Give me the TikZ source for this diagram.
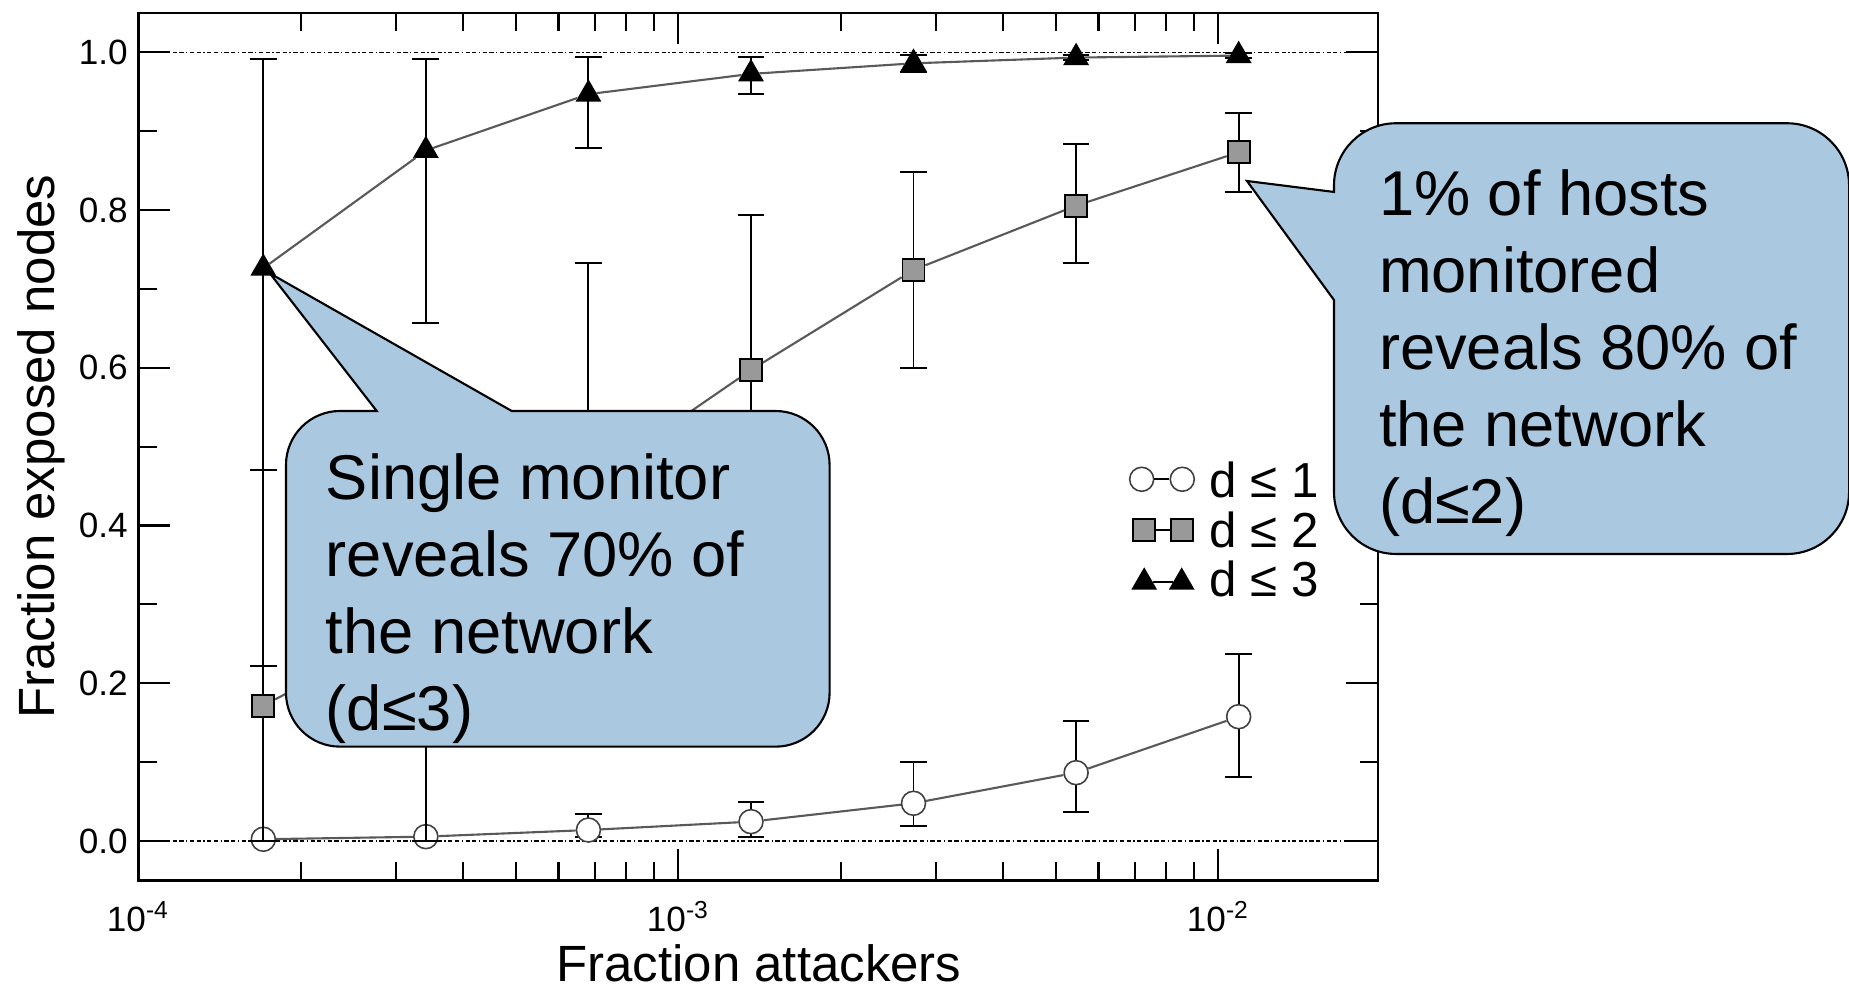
\documentclass[tikz,border=0pt]{standalone}
\usepackage{fontspec}
\setmainfont{Liberation Sans}
\usepackage{tikz}
\usetikzlibrary{arrows}
\usetikzlibrary{shapes.geometric}
\definecolor{calloutblue}{RGB}{170,201,225}

\begin{document}
\begin{tikzpicture}[line cap=butt,line join=miter,x=5.4cm,y=7.887cm,
  axisline/.style={line width=0.75pt},
  tickline/.style={line width=0.6pt},
  refline/.style={line width=0.4pt,dash pattern=on 1.2pt off 0.7pt on 1.2pt off 0.7pt on 0.4pt off 0.7pt},
  errbar/.style={line width=0.55pt},
  dline/.style={black!65,line width=0.6pt},
  dmark1/.style={circle,draw=black!75,fill=white,line width=0.45pt,minimum size=0.24cm,inner sep=0pt},
  dmark2/.style={rectangle,draw=black,fill=black!40,line width=0.5pt,minimum size=0.22cm,inner sep=0pt},
  dmark3/.style={regular polygon,regular polygon sides=3,draw=black,fill=black,line width=0.4pt,minimum size=0.27cm,inner sep=0pt},
  ticklabel/.style={font=\fontsize{10}{12}\selectfont},
  legtext/.style={font=\fontsize{14}{16}\selectfont,anchor=base west,inner sep=0pt},
  callout/.style={draw=black,fill=calloutblue,line width=0.6pt},
  bubbletext/.style={font=\fontsize{18}{21.9}\selectfont,anchor=base west,inner sep=0pt,align=left}]
\useasboundingbox (-0.2561,-0.18638) rectangle (3.1680,1.06631);
% dotted lines at 0 and 1
\draw[refline] (0,0) -- (2.2957,0);
\draw[refline] (0,1) -- (2.2957,1);
% frame and ticks
\draw[axisline] (0,-0.05) rectangle (2.2957,1.05);
\foreach \y in {0,0.2,0.4,0.6,0.8,1}
{\draw[tickline,shift={(0,\y)}] (0pt,0pt) -- (9pt,0pt);
\draw[tickline,shift={(2.2957,\y)}] (0pt,0pt) -- (-9pt,0pt);}
\foreach \y in {0.1,0.3,0.5,0.7,0.9}
{\draw[tickline,shift={(0,\y)}] (0pt,0pt) -- (5.2pt,0pt);
\draw[tickline,shift={(2.2957,\y)}] (0pt,0pt) -- (-5.2pt,0pt);}
\foreach \x in {1,2}
{\draw[tickline,shift={(\x,-0.05)}] (0pt,0pt) -- (0pt,9pt);
\draw[tickline,shift={(\x,1.05)}] (0pt,0pt) -- (0pt,-9pt);}
\foreach \d in {0,1}
\foreach \k in {2,...,9}
{\draw[tickline,shift={({\d+log10(\k)},-0.05)}] (0pt,0pt) -- (0pt,5.2pt);
\draw[tickline,shift={({\d+log10(\k)},1.05)}] (0pt,0pt) -- (0pt,-5.2pt);}
\foreach \y/\t [count=\i] in {0/0.0,0.2/0.2,0.4/0.4,0.6/0.6,0.8/0.8,1/1.0}
\draw (0,\y) node[left,ticklabel,inner sep=2.8pt] (ylab\i) {\t};
\foreach \x/\e [count=\i] in {0/-4,1/-3,2/-2}
\draw (\x,-0.1147) node[anchor=base,ticklabel,inner sep=0pt] (xlab\i) {10\textsuperscript{\e}};
\node[anchor=base,inner sep=0pt,font=\fontsize{14.5}{17}\selectfont] (xtitle) at (1.1494,-0.1785) {Fraction attackers};
\node[anchor=base,inner sep=0pt,rotate=90,font=\fontsize{14.5}{17}\selectfont] (ytitle) at (-0.1543,0.5) {Fraction exposed nodes};
% d <= 1
\foreach \x/\lo/\hi in {0.8336/0.005/0.0339,1.1346/0.0055/0.0498,1.4356/0.019/0.1005,1.7367/0.0364/0.1521,2.0377/0.0815/0.2367}
{\draw[errbar] (\x,\lo) -- (\x,\hi);
\draw[errbar,shift={(\x,\lo)}] (-3.8pt,0pt) -- (3.8pt,0pt);
\draw[errbar,shift={(\x,\hi)}] (-3.8pt,0pt) -- (3.8pt,0pt);}
\foreach \x/\y [count=\i] in {0.2315/0.0022,0.5325/0.0055,0.8336/0.0139,1.1346/0.0245,1.4356/0.0478,1.7367/0.0866,2.0377/0.1576}
\node[dmark1] (c\i) at (\x,\y) {};
\draw[dline] (c1) -- (c2) -- (c3) -- (c4) -- (c5) -- (c6) -- (c7);
% d <= 2
\foreach \x/\lo/\hi in {0.2315/0/0.4704,0.5325/0/0.50,0.8336/0.178/0.7325,1.1346/0.40/0.7937,1.4356/0.6001/0.8478,1.7367/0.7325/0.8837,2.0377/0.8225/0.9234}
{\draw[errbar] (\x,\lo) -- (\x,\hi);
\draw[errbar,shift={(\x,\lo)}] (-3.8pt,0pt) -- (3.8pt,0pt);
\draw[errbar,shift={(\x,\hi)}] (-3.8pt,0pt) -- (3.8pt,0pt);}
\foreach \x/\y [count=\i] in {0.2315/0.1716,0.5325/0.28,0.8336/0.4554,1.1346/0.5972,1.4356/0.724,1.7367/0.8055,2.0377/0.8732}
\node[dmark2] (s\i) at (\x,\y) {};
\draw[dline] (s1) -- (s2) -- (s3) -- (s4) -- (s5) -- (s6) -- (s7);
% d <= 3
\foreach \x/\lo/\hi in {0.2315/0.2223/0.9915,0.5325/0.6564/0.9915,0.8336/0.8791/0.9945,1.1346/0.9467/0.9935,1.4356/0.9754/0.997,1.7367/0.99/0.997,2.0377/0.993/0.999}
{\draw[errbar] (\x,\lo) -- (\x,\hi);
\draw[errbar,shift={(\x,\lo)}] (-3.8pt,0pt) -- (3.8pt,0pt);
\draw[errbar,shift={(\x,\hi)}] (-3.8pt,0pt) -- (3.8pt,0pt);}
\foreach \x/\y [count=\i] in {0.2315/0.7262,0.5325/0.8755,0.8336/0.9469,1.1346/0.9726,1.4356/0.986,1.7367/0.9933,2.0377/0.9958}
\node[dmark3] (t\i) at (\x,\y) {};
\draw[dline] (t1) -- (t2) -- (t3) -- (t4) -- (t5) -- (t6) -- (t7);
% legend
\node[dmark1] (lc1) at (1.8581,0.4586) {};
\node[dmark1] (lc2) at (1.9333,0.4586) {};
\draw[line width=0.5pt] (lc1) -- (lc2);
\node[dmark2] (ls1) at (1.8630,0.3943) {};
\node[dmark2] (ls2) at (1.9322,0.3943) {};
\draw[line width=0.5pt] (ls1) -- (ls2);
\node[dmark3] (lt1) at (1.8628,0.3281) {};
\node[dmark3] (lt2) at (1.9322,0.3281) {};
\draw[line width=0.5pt] (lt1) -- (lt2);
\node[legtext] (leg1) at (1.9828,0.4358) {d ≤ 1};
\node[legtext] (leg2) at (1.9828,0.3719) {d ≤ 2};
\node[legtext] (leg3) at (1.9828,0.3106) {d ≤ 3};
% callouts
\draw[callout] (0.6915,0.5452) -- (0.2435,0.7198) -- (0.4415,0.5452) -- (0.3735,0.5452) arc[start angle=90,end angle=180,radius=0.54cm] -- (0.2735,0.1881) arc[start angle=180,end angle=270,radius=0.54cm] -- (1.1802,0.1196) arc[start angle=270,end angle=360,radius=0.54cm] -- (1.2802,0.4767) arc[start angle=0,end angle=90,radius=0.54cm] -- cycle;
\node[bubbletext] (note1) at (0.3461,0.1407) {Single monitor\\reveals 70\% of\\the network\\(d≤3)};
\draw[callout] (2.2143,0.6859) -- (2.0531,0.8368) -- (2.2143,0.8229) -- (2.2143,0.8314) arc[start angle=180,end angle=90,radius=0.62cm] -- (3.0533,0.91) arc[start angle=90,end angle=0,radius=0.62cm] -- (3.1681,0.4425) arc[start angle=0,end angle=-90,radius=0.62cm] -- (2.3291,0.3639) arc[start angle=270,end angle=180,radius=0.62cm] -- cycle;
\node[bubbletext] (note2) at (2.2963,0.4028) {1\% of hosts\\monitored\\reveals 80\% of\\the network\\(d≤2)};
\end{tikzpicture}
\end{document}
